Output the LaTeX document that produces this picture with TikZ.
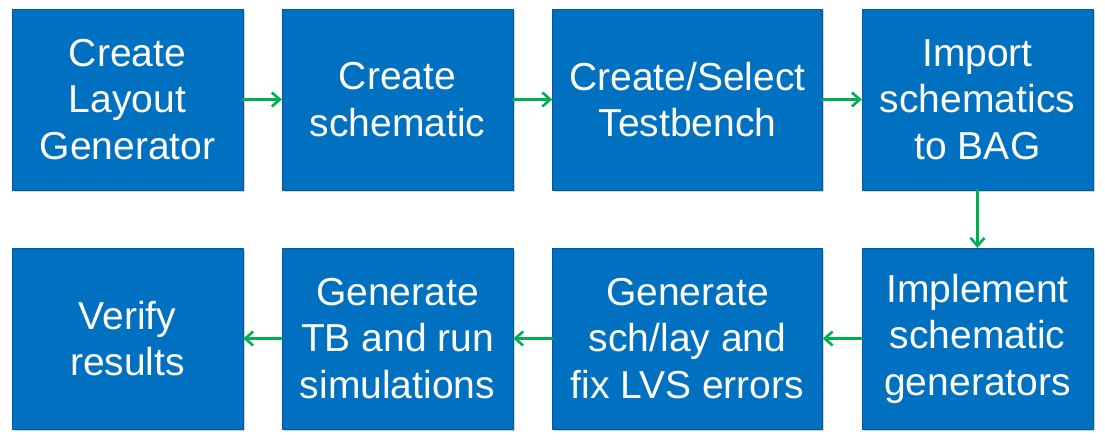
\documentclass[tikz,border=0pt]{standalone}
\usepackage{fontspec}
\setmainfont{Liberation Sans}
\usetikzlibrary{arrows.meta,shadows}
\definecolor{stepblue}{HTML}{0070C0}
\definecolor{flowgreen}{HTML}{00B050}
\tikzset{
  stepbox/.style={fill=stepblue, draw=stepblue!80!black, line width=0.4pt, text=white,
    minimum height=181pt, align=center, inner sep=0pt,
    font=\fontsize{39}{46.5}\selectfont,
    drop shadow={opacity=0.35, shadow xshift=1.5pt, shadow yshift=-1.5pt}},
  flow/.style={->, flowgreen, line width=2.6pt}
}
\begin{document}
\begin{tikzpicture}[>={Straight Barb[length=8pt,width=14pt]}, x=1pt, y=-1pt, line join=round, line cap=round]
			\useasboundingbox (0,0) rectangle (1105,444);
			% top row
			\node[stepbox, minimum width=231pt] (layout) at (127.5,99.5) {Create\\Layout\\Generator};
			\node[stepbox, minimum width=231pt] (schem) at (397.5,99.5) {Create\\schematic};
			\node[stepbox, minimum width=270pt] (tbench) at (687.5,99.5) {Create/Select\\Testbench};
			\node[stepbox, minimum width=231pt] (import) at (977.5,99.5) {Import\\schematics\\to BAG};
			% bottom row
			\node[stepbox, minimum width=231pt] (verify) at (127.5,338.5) {Verify\\results};
			\node[stepbox, minimum width=231pt] (sim) at (397.5,338.5) {Generate\\TB and run\\simulations};
			\node[stepbox, minimum width=270pt] (lvs) at (687.5,338.5) {Generate\\sch/lay and\\fix LVS errors};
			\node[stepbox, minimum width=231pt] (impl) at (977.5,338.5) {Implement\\schematic\\generators};
			\draw[flow] (layout) -- (schem);
			\draw[flow] (schem) -- (tbench);
			\draw[flow] (tbench) -- (import);
			\draw[flow] (import) -- (impl);
			\draw[flow] (impl) -- (lvs);
			\draw[flow] (lvs) -- (sim);
			\draw[flow] (sim) -- (verify);
	\end{tikzpicture}
\end{document}
